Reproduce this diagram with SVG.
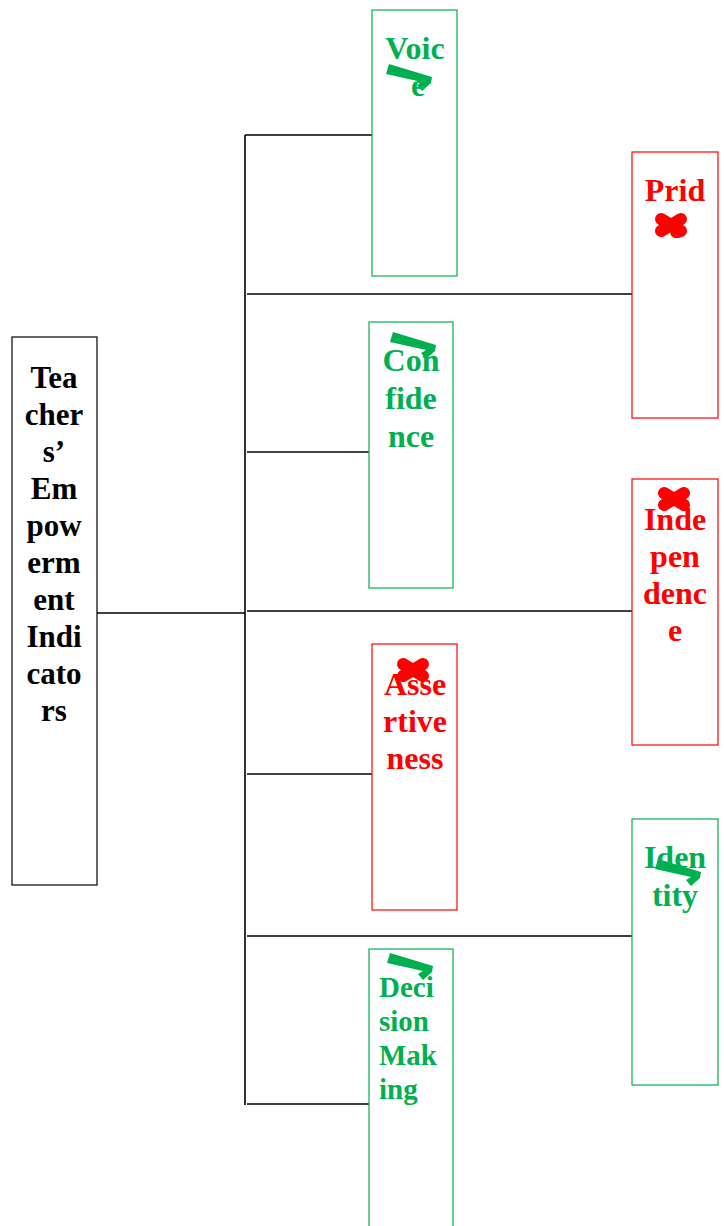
<svg xmlns="http://www.w3.org/2000/svg" width="724" height="1226" viewBox="0 0 724 1226">
<style>
.g{fill:#fff;stroke:#00B050;stroke-width:1.2}
.r{fill:#fff;stroke:#FF0000;stroke-width:1.2}
.k{fill:#fff;stroke:#000;stroke-width:1.2}
text{font-family:"Liberation Serif","Times New Roman",serif;font-weight:bold}
.tg{fill:#00B050;font-size:32px;text-anchor:middle}
.tr{fill:#FF0000;font-size:32px;text-anchor:middle}
.tk{fill:#000;font-size:31px;text-anchor:middle}
.tgl{fill:#00B050;font-size:29px}
.ln{stroke:#000;stroke-width:1.6;fill:none}
</style>
<defs>
<path id="chk" d="M3,0 L46,13 L45,19 L36,27 L31,21 L36,18 L0,10 Z" fill="#00B050"/>
<g id="crs" stroke="#FF0000" stroke-width="12" stroke-linecap="round"><line x1="-10" y1="-6" x2="10" y2="6"/><line x1="-10" y1="6" x2="10" y2="-6"/></g>
</defs>
<g id="connectors">
<line class="ln" x1="97" y1="613" x2="245" y2="613"/>
<line class="ln" x1="245" y1="135" x2="245" y2="1105"/>
<line class="ln" x1="245" y1="135" x2="372" y2="135"/>
<line class="ln" x1="247" y1="294" x2="632" y2="294"/>
<line class="ln" x1="247" y1="452" x2="369" y2="452"/>
<line class="ln" x1="247" y1="611" x2="632" y2="611"/>
<line class="ln" x1="247" y1="774" x2="372" y2="774"/>
<line class="ln" x1="247" y1="936" x2="632" y2="936"/>
<line class="ln" x1="247" y1="1104" x2="369" y2="1104"/>
</g>
<g id="root">
<rect class="k" x="12" y="337" width="85" height="548"/>
<text class="tk" x="54" y="388">Tea</text>
<text class="tk" x="54" y="425">cher</text>
<text class="tk" x="54" y="462">s’</text>
<text class="tk" x="54" y="499">Em</text>
<text class="tk" x="54" y="536">pow</text>
<text class="tk" x="54" y="573">erm</text>
<text class="tk" x="54" y="610">ent</text>
<text class="tk" x="54" y="647">Indi</text>
<text class="tk" x="54" y="684">cato</text>
<text class="tk" x="54" y="721">rs</text>
</g>
<g id="voice">
<rect class="g" x="372" y="10" width="85" height="266"/>
<text class="tg" x="415" y="59">Voic</text>
<text class="tg" x="418" y="96">e</text>
<use href="#chk" x="386" y="64"/>
</g>
<g id="pride">
<rect class="r" x="632" y="152" width="86" height="266"/>
<text class="tr" x="675" y="201">Prid</text>
<text class="tr" x="676" y="238">e</text>
<use href="#crs" x="671" y="225"/>
</g>
<g id="confidence">
<rect class="g" x="369" y="322" width="84" height="266"/>
<text class="tg" x="411" y="371">Con</text>
<text class="tg" x="411" y="409">fide</text>
<text class="tg" x="411" y="447">nce</text>
<use href="#chk" x="390" y="332"/>
</g>
<g id="independence">
<rect class="r" x="632" y="479" width="86" height="266"/>
<text class="tr" x="675" y="530">Inde</text>
<text class="tr" x="675" y="567">pen</text>
<text class="tr" x="675" y="604">denc</text>
<text class="tr" x="675" y="641">e</text>
<use href="#crs" x="674" y="499"/>
</g>
<g id="assertiveness">
<rect class="r" x="372" y="644" width="85" height="266"/>
<text class="tr" x="415" y="695">Asse</text>
<text class="tr" x="415" y="732">rtive</text>
<text class="tr" x="415" y="769">ness</text>
<use href="#crs" x="413" y="670"/>
</g>
<g id="identity">
<rect class="g" x="632" y="819" width="86" height="266"/>
<text class="tg" x="675" y="868">Iden</text>
<text class="tg" x="675" y="906">tity</text>
<use href="#chk" x="655" y="859"/>
</g>
<g id="decision">
<rect class="g" x="369" y="949" width="84" height="290"/>
<text class="tgl" x="379" y="997">Deci</text>
<text class="tgl" x="379" y="1031">sion</text>
<text class="tgl" x="379" y="1065">Mak</text>
<text class="tgl" x="379" y="1099">ing</text>
<use href="#chk" x="387" y="953"/>
</g>
</svg>
